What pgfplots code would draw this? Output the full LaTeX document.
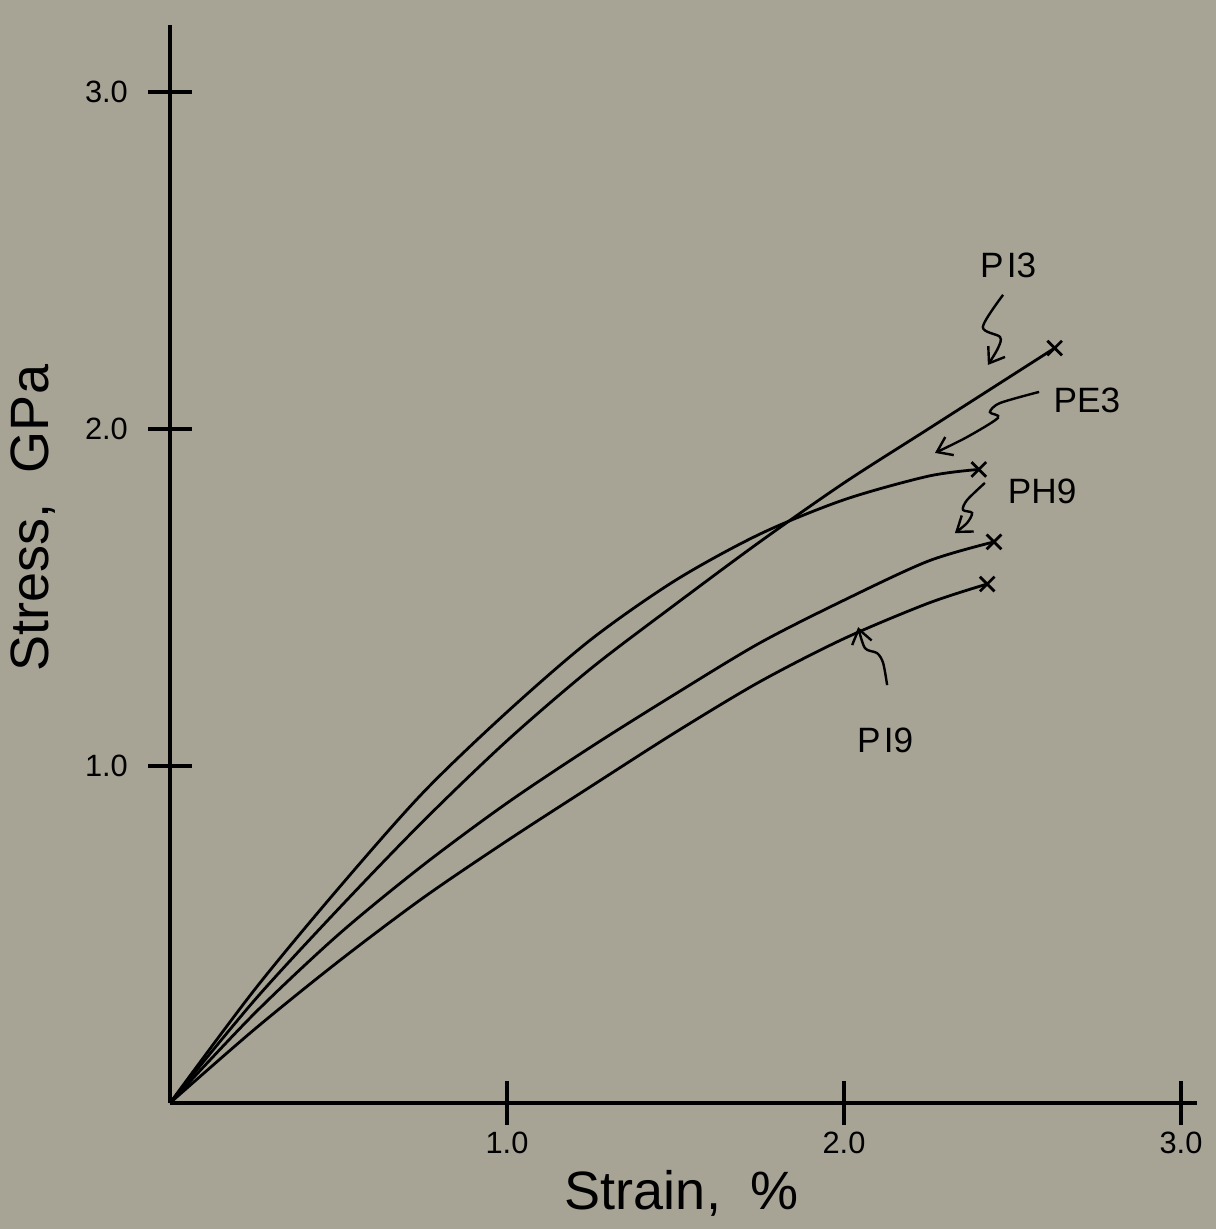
\documentclass[border=0pt]{standalone}
\usepackage{fontspec}
\setmainfont{Liberation Sans}
\usepackage{pgfplots}
\pgfplotsset{compat=1.18}
\usetikzlibrary{arrows.meta}
\definecolor{paper}{RGB}{167,163,149}

% stress-strain curves
\pgfplotstableread{
x y
0 0
0.25 0.335
0.50 0.637
0.75 0.920
1.00 1.160
1.25 1.376
1.50 1.551
1.75 1.688
2.00 1.790
2.25 1.860
2.40 1.880
}\pethree
\pgfplotstableread{
x y
0 0
0.25 0.304
0.50 0.576
0.75 0.835
1.00 1.075
1.25 1.290
1.50 1.480
1.75 1.665
2.00 1.840
2.25 2.000
2.50 2.160
2.625 2.240
}\pithree
\pgfplotstableread{
x y
0 0
0.25 0.265
0.50 0.500
0.75 0.705
1.00 0.890
1.25 1.057
1.50 1.214
1.75 1.365
2.00 1.492
2.25 1.608
2.445 1.665
}\phnine
\pgfplotstableread{
x y
0 0
0.25 0.218
0.50 0.420
0.75 0.608
1.00 0.778
1.25 0.940
1.50 1.100
1.75 1.250
2.00 1.378
2.25 1.483
2.425 1.540
}\pinine

\begin{document}
\begin{tikzpicture}
\path[use as bounding box, fill=paper] (-42.5pt,-31.5pt) rectangle (261.5pt,275.75pt);
\begin{axis}[
    at={(0,0)}, anchor=south west,
    x=84.25pt, y=84.25pt,
    xmin=0, xmax=3.047, ymin=0, ymax=3.2,
    axis x line=bottom, axis y line=left,
    axis line style={-, line width=0.9pt},
    xtick={1,2,3}, ytick={1,2,3},
    xticklabels={1.0,2.0,3.0}, yticklabels={1.0,2.0,3.0},
    tick align=center, major tick length=11pt,
    tick style={line width=0.8pt, black},
    ticklabel style={font=\fontsize{7.7}{8}\selectfont},
    xticklabel style={anchor=north, yshift=1.75pt},
    yticklabel style={anchor=east, xshift=-1.5pt},
    clip=false,
    every axis plot/.append style={line width=0.7pt, black},
]
\addplot[smooth, mark=x, mark size=2.6pt, mark indices={11}] table {\pethree};
\addplot[smooth, mark=x, mark size=2.6pt, mark indices={12}] table {\pithree};
\addplot[smooth, mark=x, mark size=2.6pt, mark indices={11}] table {\phnine};
\addplot[smooth, mark=x, mark size=2.6pt, mark indices={11}] table {\pinine};

\begin{scope}[font=\fontsize{8.8}{10}\selectfont]
\node at (2.487,2.484) {P\kern0.8pt I3};
\node at (2.721,2.086) {PE3};
\node at (2.588,1.816) {PH9};
\node at (2.122,1.077) {P\kern0.8pt I9};
\end{scope}

\begin{scope}[line width=0.6pt, -{Straight Barb[length=3.5pt, width=5pt]}]
\draw plot[smooth] coordinates {(2.472,2.398) (2.412,2.303) (2.463,2.273) (2.457,2.240) (2.427,2.190)};
\draw plot[smooth] coordinates {(2.579,2.110) (2.463,2.077) (2.433,2.050) (2.457,2.033) (2.365,1.976) (2.270,1.929)};
\draw plot[smooth] coordinates {(2.418,1.840) (2.365,1.789) (2.353,1.760) (2.380,1.751) (2.365,1.721) (2.329,1.691)};
\draw plot[smooth] coordinates {(2.128,1.240) (2.116,1.306) (2.098,1.335) (2.062,1.350) (2.042,1.412)};
\end{scope}
\end{axis}

\node[font=\fontsize{13.5}{15}\selectfont] at (128pt,-22.5pt) {Strain,\ \ \%};
\node[font=\fontsize{13.5}{15}\selectfont, rotate=90] at (-34.25pt,146.25pt) {Stress,\ \ GPa};
\end{tikzpicture}
\end{document}
